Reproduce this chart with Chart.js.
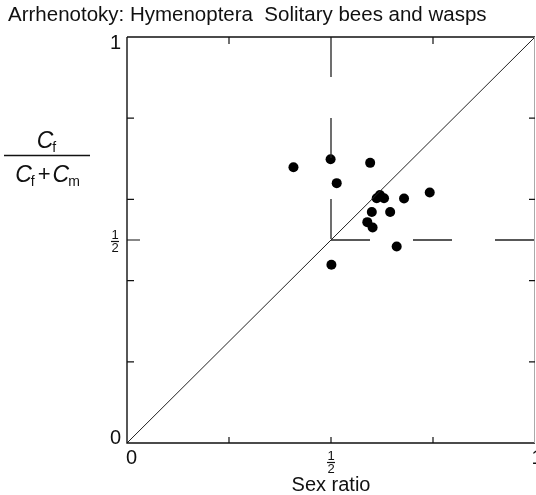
<!DOCTYPE html>
<html>
<head>
<meta charset="utf-8">
<script src="https://cdn.jsdelivr.net/npm/chart.js@4"></script>
<style>
  html, body { margin: 0; padding: 0; background: #fff; }
  #wrap { width: 536px; height: 495px; }
</style>
</head>
<body>
<div id="wrap"><canvas id="chart-area" width="536" height="495"></canvas></div>
<script>
// observed species: sex ratio vs relative investment in females
var sexRatio   = [0.408, 0.499, 0.596, 0.514, 0.612, 0.620, 0.630, 0.679, 0.742, 0.600, 0.645, 0.589, 0.602, 0.661, 0.501];
var investment = [0.679, 0.699, 0.690, 0.640, 0.603, 0.611, 0.603, 0.602, 0.617, 0.569, 0.569, 0.544, 0.531, 0.484, 0.439];

// reference lines
var diagX = [0, 1], diagY = [0, 1];
var vDashX = [0.5, 0.5], vDashY = [1, 0.5];
var hDashX = [0.5, 1], hDashY = [0.5, 0.5];

// tick marks and labels
var xTicks = [0.25, 0.5, 0.75];
var topTicks = [0.25, 0.75];
var yTicks = [0.2, 0.4, 0.6, 0.8];
var xTickLabels = [[0, '0'], [0.5, '1/2'], [1, '1']];
var yTickLabels = [[1, '1'], [0.5, '1/2'], [0, '0']];

var titleText = 'Arrhenotoky: Hymenoptera  Solitary bees and wasps';
var xTitle = 'Sex ratio';

function pairs(xs, ys) {
  return xs.map(function (x, i) { return { x: x, y: ys[i] }; });
}

var FONT = '"Liberation Sans", Arial, sans-serif';

function drawHalf(ctx, cx, cy) {
  ctx.save();
  ctx.font = '13px ' + FONT;
  ctx.textAlign = 'center';
  ctx.textBaseline = 'middle';
  ctx.fillText('1', cx, cy - 6);
  ctx.fillText('2', cx, cy + 7);
  ctx.beginPath();
  ctx.lineWidth = 1.2;
  ctx.moveTo(cx - 4, cy + 0.5);
  ctx.lineTo(cx + 4, cy + 0.5);
  ctx.stroke();
  ctx.restore();
}

var framePlugin = {
  id: 'frame',
  afterDraw: function (chart) {
    var ctx = chart.ctx;
    var a = chart.chartArea;
    var xs = chart.scales.x, ys = chart.scales.y;
    ctx.save();
    ctx.strokeStyle = '#111';
    ctx.fillStyle = '#111';
    ctx.lineWidth = 1.4;
    // left, bottom, top
    ctx.beginPath();
    ctx.moveTo(a.left, a.top);
    ctx.lineTo(a.left, a.bottom);
    ctx.lineTo(a.right, a.bottom);
    ctx.moveTo(a.left, a.top);
    ctx.lineTo(a.right, a.top);
    ctx.stroke();
    // faint right edge
    ctx.strokeStyle = '#aaa';
    ctx.lineWidth = 1;
    ctx.beginPath();
    ctx.moveTo(a.right - 0.5, a.top);
    ctx.lineTo(a.right - 0.5, a.bottom);
    ctx.stroke();

    ctx.strokeStyle = '#111';
    ctx.lineWidth = 1.2;
    ctx.beginPath();
    xTicks.forEach(function (v) {
      var px = xs.getPixelForValue(v);
      ctx.moveTo(px, a.bottom);
      ctx.lineTo(px, a.bottom - 6);
    });
    topTicks.forEach(function (v) {
      var px = xs.getPixelForValue(v);
      ctx.moveTo(px, a.top);
      ctx.lineTo(px, a.top + 7);
    });
    yTicks.forEach(function (v) {
      var py = ys.getPixelForValue(v);
      ctx.moveTo(a.left, py);
      ctx.lineTo(a.left + 7, py);
      ctx.moveTo(a.right, py);
      ctx.lineTo(a.right - 6, py);
    });
    var pHalf = ys.getPixelForValue(0.5);
    ctx.moveTo(a.left, pHalf);
    ctx.lineTo(a.left + 13, pHalf);
    ctx.stroke();

    // tick labels
    ctx.font = '20px ' + FONT;
    ctx.textBaseline = 'middle';
    yTickLabels.forEach(function (t) {
      var py = ys.getPixelForValue(t[0]);
      if (t[1] === '1/2') { drawHalf(ctx, a.left - 12, py + 1); return; }
      ctx.textAlign = 'right';
      ctx.fillText(t[1], a.left - 6, t[0] === 1 ? py + 6 : py - 5);
    });
    xTickLabels.forEach(function (t) {
      var px = xs.getPixelForValue(t[0]);
      if (t[1] === '1/2') { drawHalf(ctx, px, a.bottom + 19); return; }
      ctx.textAlign = t[0] === 0 ? 'left' : 'center';
      ctx.fillText(t[1], t[0] === 0 ? px - 1 : px + 2, a.bottom + 15);
    });

    // titles
    ctx.textAlign = 'left';
    ctx.font = '20.5px ' + FONT;
    ctx.fillText(titleText, 8, 15);
    ctx.textAlign = 'center';
    ctx.font = '20px ' + FONT;
    ctx.fillText(xTitle, xs.getPixelForValue(0.5), 485);

    // y axis title: Cf / (Cf + Cm)
    var cx = 47;
    ctx.textBaseline = 'alphabetic';
    ctx.font = 'italic 23px ' + FONT;
    var wC = ctx.measureText('C').width;
    ctx.font = '14px ' + FONT;
    var wf = ctx.measureText('f').width;
    var wm = ctx.measureText('m').width;
    // numerator
    var nx = cx - (wC + wf) / 2;
    ctx.textAlign = 'left';
    ctx.font = 'italic 23px ' + FONT;
    ctx.fillText('C', nx, 148);
    ctx.font = '14px ' + FONT;
    ctx.fillText('f', nx + wC - 1, 152);
    // bar
    ctx.lineWidth = 1.4;
    ctx.beginPath();
    ctx.moveTo(4, 155.5);
    ctx.lineTo(90, 155.5);
    ctx.stroke();
    // denominator
    ctx.font = '22px ' + FONT;
    var wPlus = ctx.measureText('+').width;
    var gap = 2;
    var total = wC + wf + gap + wPlus + gap + wC + wm - 2;
    var dx = cx - total / 2;
    ctx.font = 'italic 23px ' + FONT;
    ctx.fillText('C', dx, 182);
    ctx.font = '14px ' + FONT;
    ctx.fillText('f', dx + wC - 1, 186);
    ctx.font = '22px ' + FONT;
    ctx.fillText('+', dx + wC + wf + gap, 181);
    ctx.font = 'italic 23px ' + FONT;
    ctx.fillText('C', dx + wC + wf + 2 * gap + wPlus, 182);
    ctx.font = '14px ' + FONT;
    ctx.fillText('m', dx + 2 * wC + wf + 2 * gap + wPlus - 1, 186);
    ctx.restore();
  }
};

var ctx = document.getElementById('chart-area').getContext('2d');
window.myScatter = new Chart(ctx, {
  type: 'scatter',
  data: {
    datasets: [{
      label: 'Diagonal',
      data: pairs(diagX, diagY),
      showLine: true,
      borderColor: '#222',
      borderWidth: 1,
      pointRadius: 0
    }, {
      label: 'Vertical',
      data: pairs(vDashX, vDashY),
      showLine: true,
      borderColor: '#222',
      borderWidth: 1.3,
      borderDash: [40, 41],
      pointRadius: 0
    }, {
      label: 'Horizontal',
      data: pairs(hDashX, hDashY),
      showLine: true,
      borderColor: '#222',
      borderWidth: 1.3,
      borderDash: [39, 43],
      pointRadius: 0
    }, {
      label: 'Species',
      data: pairs(sexRatio, investment),
      backgroundColor: '#000',
      borderColor: '#000',
      pointRadius: 5,
      borderWidth: 0
    }]
  },
  options: {
    responsive: false,
    animation: false,
    layout: { autoPadding: false, padding: { left: 127, top: 37, right: 1, bottom: 52 } },
    plugins: { legend: { display: false }, tooltip: { enabled: false } },
    scales: {
      x: { type: 'linear', min: 0, max: 1, display: false },
      y: { type: 'linear', min: 0, max: 1, display: false }
    }
  },
  plugins: [framePlugin]
});
</script>
</body>
</html>
